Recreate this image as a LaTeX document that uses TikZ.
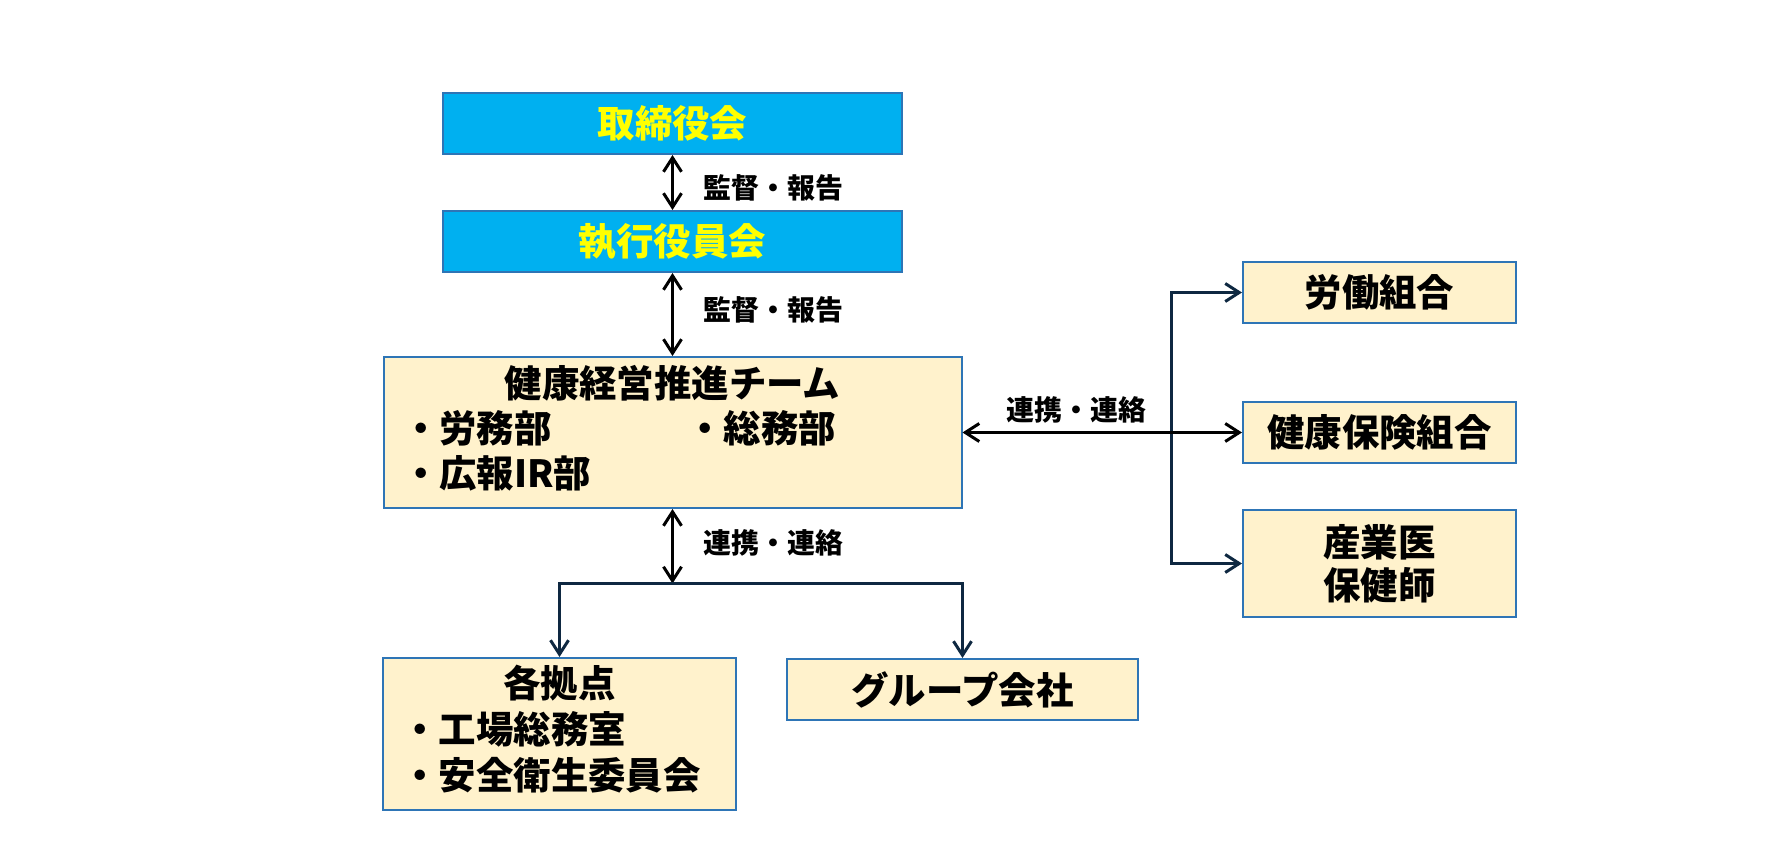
\documentclass[tikz,border=0pt]{standalone}
\usepackage{fontspec}
\setmainfont{Noto Sans CJK JP}
\usepackage{xcolor}
\usetikzlibrary{positioning,arrows.meta}

\definecolor{boardblue}{HTML}{00B0F0}
\definecolor{edgeblue}{HTML}{2E75B6}
\definecolor{cream}{HTML}{FFF2CC}
\definecolor{navy}{HTML}{0E2841}
\definecolor{brightyellow}{HTML}{FFFF00}

\newcommand\bigjp{\fontsize{21.3}{24.2}\selectfont\bfseries}
\newcommand\smalljp{\fontsize{15.9}{18}\selectfont\bfseries}

\tikzset{
  >={Straight Barb[length=2.8mm,width=3.6mm]},
  topbox/.style={draw=edgeblue, line width=0.4mm, fill=boardblue, text=brightyellow,
    font=\bigjp, inner sep=0pt, minimum width=459*0.2mm, minimum height=61*0.2mm},
  orgbox/.style={draw=edgeblue, line width=0.4mm, fill=cream, text=black,
    font=\bigjp, inner sep=0pt, align=center},
  lbl/.style={font=\smalljp, inner sep=0pt},
  dbl/.style={<->, line width=0.6mm, black},
  elbow/.style={->, line width=0.6mm, navy},
}

\begin{document}
\begin{tikzpicture}[x=0.2mm, y=-0.2mm]
  \useasboundingbox (0,0) rectangle (1773,854);
  \node[topbox] (board) at (672.5,123.5) {取締役会};
  \node[topbox] (exec) at (672.5,241.5) {執行役員会};
  \node[orgbox, minimum width=578*0.2mm, minimum height=151*0.2mm] (team) at (672.5,432.5)
    {\begin{tabular}{@{}p{7.59em}@{}p{6.86em}@{}}
      \multicolumn{2}{@{}c@{}}{健康経営推進チーム}\\
      ・労務部 & ・総務部\\
      ・広報IR部 &
    \end{tabular}};
  \node[orgbox, minimum width=353*0.2mm, minimum height=152*0.2mm] (sites) at (559.5,734)
    {\fontsize{21.3}{25.8}\selectfont
    \begin{tabular}{@{}p{8.45em}@{}}
      \multicolumn{1}{@{}c@{}}{各拠点}\\
      ・工場総務室\\
      ・安全衛生委員会
    \end{tabular}};
  \node[orgbox, minimum width=351*0.2mm, minimum height=61*0.2mm] (group) at (962.5,689.5) {グループ会社};
  \node[orgbox, minimum width=273*0.2mm, minimum height=61*0.2mm] (union) at (1379.5,292.5) {労働組合};
  \node[orgbox, minimum width=273*0.2mm, minimum height=61*0.2mm] (kenpo) at (1379.5,432.5) {健康保険組合};
  \node[orgbox, minimum width=273*0.2mm, minimum height=107*0.2mm] (doctor) at (1379.5,563.5)
    {\fontsize{21.3}{24.4}\selectfont 産業医\\保健師};

  \node[lbl, anchor=west] (supA) at (703,188) {監督・報告};
  \node[lbl, anchor=west] (supB) at (703,310) {監督・報告};
  \node[lbl, anchor=west] (linkA) at (703,543) {連携・連絡};
  \node[lbl] (linkB) at (1076.5,410) {連携・連絡};

  \coordinate (jn) at (672.5,583.5);
  \coordinate (rj) at (1171.5,432.5);
  \draw[dbl] (board) -- (exec);
  \draw[dbl] (exec) -- (team);
  \draw[dbl] (team) -- (jn);
  \draw[elbow] (jn) -| (sites);
  \draw[elbow] (jn) -| (group);
  \draw[elbow] (rj) |- (union);
  \draw[elbow] (rj) |- (doctor);
  \draw[dbl] (team) -- (kenpo);
\end{tikzpicture}
\end{document}
